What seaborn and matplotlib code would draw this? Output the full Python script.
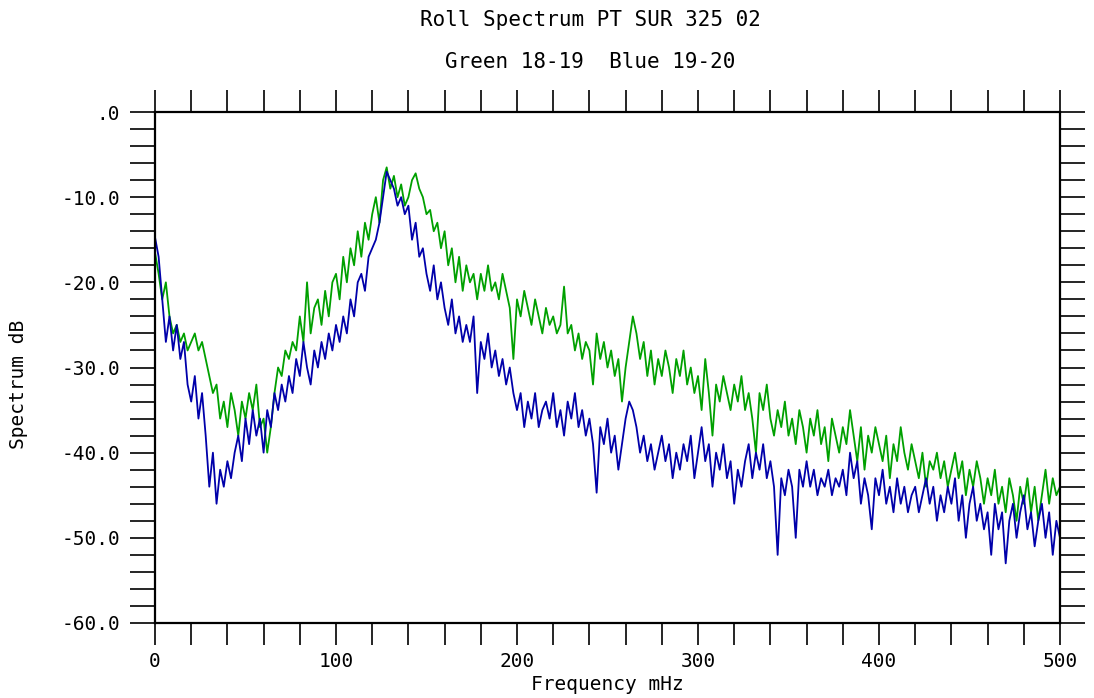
import numpy as np
import pandas as pd
import matplotlib
matplotlib.use("Agg")
import matplotlib.pyplot as plt
import seaborn as sns

# Frequency grid (mHz), 2 mHz spacing
freq = list(range(0, 501, 2))

green_db = [
    -16.5, -19, -22, -20, -24, -26, -25, -27, -26, -28,
    -27, -26, -28, -27, -29, -31, -33, -32, -36, -34,
    -37, -33, -35, -38, -34, -36, -33, -35, -32, -37,
    -36, -40, -37, -33, -30, -31, -28, -29, -27, -28,
    -24, -27, -20, -26, -23, -22, -25, -21, -24, -20,
    -19, -22, -17, -20, -16, -18, -14, -17, -13, -15,
    -12, -10, -13, -8, -6.5, -9, -7.5, -10, -8.5, -11,
    -10, -8, -7.2, -9, -10, -12, -11.5, -14, -13, -16,
    -14, -18, -16, -20, -17, -21, -18, -20, -19, -22,
    -19, -21, -18, -21, -20, -22, -19, -21, -23, -29,
    -22, -24, -21, -23, -25, -22, -24, -26, -23, -25,
    -24, -26, -25, -20.5, -26, -25, -28, -26, -29, -27,
    -28, -32, -26, -29, -27, -30, -28, -31, -29, -34,
    -30, -27, -24, -26, -29, -27, -31, -28, -32, -29,
    -31, -28, -30, -33, -29, -31, -28, -32, -30, -33,
    -31, -35, -29, -33, -38, -32, -34, -31, -33, -35,
    -32, -34, -31, -35, -33, -36, -40, -33, -35, -32,
    -36, -38, -35, -37, -34, -38, -36, -39, -35, -37,
    -40, -36, -38, -35, -39, -37, -41, -36, -38, -40,
    -37, -39, -35, -38, -41, -37, -42, -38, -40, -37,
    -39, -41, -38, -43, -39, -41, -37, -40, -42, -39,
    -41, -43, -40, -44, -41, -42, -40, -43, -41, -44,
    -42, -40, -43, -41, -45, -42, -44, -41, -43, -46,
    -43, -45, -42, -46, -44, -47, -43, -45, -48, -44,
    -46, -43, -47, -44, -48, -45, -42, -46, -43, -45,
    -44,
]

blue_db = [
    -14.7, -17, -22, -27, -24, -28, -25, -29, -27, -32,
    -34, -31, -36, -33, -38, -44, -40, -46, -42, -44,
    -41, -43, -40, -38, -41, -36, -39, -35, -38, -36,
    -40, -35, -37, -33, -35, -32, -34, -31, -33, -29,
    -31, -27, -30, -32, -28, -30, -27, -29, -26, -28,
    -25, -27, -24, -26, -22, -24, -20, -19, -21, -17,
    -16, -15, -13, -10, -7, -8, -9, -11, -10, -12,
    -11, -15, -13, -17, -16, -19, -21, -18, -22, -20,
    -23, -25, -22, -26, -24, -27, -25, -27, -24, -33,
    -27, -29, -26, -30, -28, -31, -29, -32, -30, -33,
    -35, -33, -37, -34, -36, -33, -37, -35, -34, -36,
    -33, -37, -35, -38, -34, -36, -33, -37, -35, -38,
    -36, -39, -44.7, -37, -39, -36, -40, -38, -42, -39,
    -36, -34, -35, -37, -40, -38, -41, -39, -42, -40,
    -38, -41, -39, -43, -40, -42, -39, -41, -38, -43,
    -40, -37, -41, -39, -44, -40, -42, -39, -43, -41,
    -46, -42, -44, -41, -39, -43, -40, -42, -39, -43,
    -41, -44, -52, -43, -45, -42, -44, -50, -42, -44,
    -41, -44, -42, -45, -43, -44, -42, -45, -43, -44,
    -42, -45, -40, -43, -41, -46, -43, -45, -49, -43,
    -45, -42, -46, -44, -47, -43, -46, -44, -47, -45,
    -44, -47, -45, -43, -46, -44, -48, -45, -47, -44,
    -46, -43, -48, -45, -50, -46, -44, -48, -46, -49,
    -47, -52, -46, -49, -47, -53, -48, -46, -50, -47,
    -45, -49, -47, -51, -48, -46, -50, -47, -52, -48,
    -50,
]

series_names = ["Green 18-19", "Blue 19-20"]
series_colors = ["#00a000", "#0000aa"]

x_ticks = [0, 100, 200, 300, 400, 500]
y_ticks = [0, -10, -20, -30, -40, -50, -60]
y_tick_labels = [".0", "-10.0", "-20.0", "-30.0", "-40.0", "-50.0", "-60.0"]

df = pd.DataFrame({
    "freq": freq * 2,
    "db": green_db + blue_db,
    "series": [series_names[0]] * len(freq) + [series_names[1]] * len(freq),
})

sns.set_style("white")
plt.rcParams["font.family"] = ["DejaVu Sans Mono"]
for k in ["text.color", "axes.labelcolor", "xtick.color", "ytick.color"]:
    plt.rcParams[k] = "black"

W, H = 1094, 698
fig = plt.figure(figsize=(W / 100, H / 100), dpi=100)
ax = fig.add_axes([155 / W, 1 - 623 / H, (1060 - 155) / W, (623 - 112) / H])

sns.lineplot(data=df, x="freq", y="db", hue="series", palette=series_colors,
             hue_order=series_names, linewidth=1.3, ax=ax, legend=False,
             estimator=None, sort=False)

ax.set_xlim(0, 500)
ax.set_ylim(-60, 0)
ax.set_xticks(x_ticks)
ax.set_xticks(list(range(0, 501, 20)), minor=True)
ax.set_yticks(y_ticks)
ax.set_yticklabels(y_tick_labels)
ax.set_yticks(list(range(-60, 1, 2)), minor=True)

ax.tick_params(axis="x", which="both", direction="out", length=16, width=1.2,
               top=True, bottom=True, color="black", labelsize=14, pad=5)
ax.tick_params(axis="y", which="both", direction="out", length=18, width=1.2,
               left=True, right=True, color="black", labelsize=14, pad=7)
for s in ax.spines.values():
    s.set_linewidth(1.6)
    s.set_color("black")

ax.set_xlabel("")
ax.set_ylabel("")
fig.text(607 / W, 1 - 685 / H, "Frequency mHz", ha="center", va="center",
         fontsize=14)
fig.text(19 / W, 1 - 384 / H, "Spectrum dB", ha="center", va="center",
         rotation=90, fontsize=14)

fig.text(590 / W, 1 - 20 / H, "Roll Spectrum PT SUR 325 02", ha="center",
         va="center", fontsize=15)
fig.text(590 / W, 1 - 62 / H, "Green 18-19  Blue 19-20", ha="center",
         va="center", fontsize=15)

fig.savefig("out.png", dpi=100, facecolor="white")
